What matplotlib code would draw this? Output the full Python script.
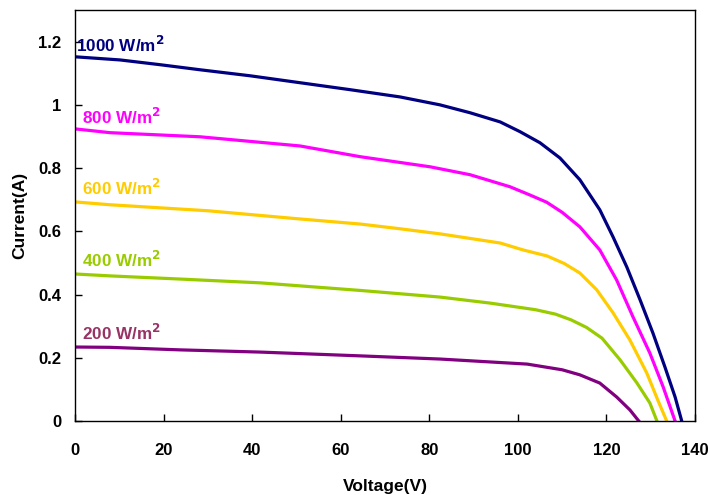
import matplotlib
matplotlib.use('Agg')
import matplotlib.pyplot as plt

plt.rcParams['font.family'] = ['Liberation Sans', 'DejaVu Sans']
plt.rcParams['font.weight'] = 'bold'

# I-V curves, one per irradiance
v_1000 = [0, 10.2, 19.2, 28.2, 39.5, 50.8, 62.1, 73.4, 82.4, 89.2, 96.0, 100.5, 105, 109.5, 114, 118.5, 121.5, 124.6, 127.6, 130.5, 133.2, 135.5, 137]
i_1000 = [1.152, 1.142, 1.127, 1.111, 1.092, 1.070, 1.048, 1.025, 1.000, 0.975, 0.946, 0.915, 0.880, 0.832, 0.763, 0.668, 0.582, 0.487, 0.383, 0.278, 0.171, 0.076, 0]

v_800 = [0, 7.9, 28.2, 50.8, 64.4, 80.2, 89.2, 98.2, 102.7, 106.5, 110, 114, 118.5, 122.3, 126.0, 129.8, 132.8, 135.5]
i_800 = [0.924, 0.912, 0.899, 0.870, 0.836, 0.804, 0.779, 0.741, 0.715, 0.692, 0.660, 0.614, 0.541, 0.446, 0.329, 0.215, 0.108, 0]

v_600 = [0, 7.9, 30, 50, 64.4, 73.4, 82.4, 96.0, 101.2, 106.6, 110.5, 114, 117.8, 121.5, 125.3, 129.1, 131.6, 133.6]
i_600 = [0.693, 0.684, 0.665, 0.640, 0.623, 0.608, 0.592, 0.563, 0.541, 0.522, 0.498, 0.468, 0.415, 0.342, 0.256, 0.152, 0.066, 0]

v_400 = [0, 7.9, 23.7, 41.8, 64.4, 82.4, 93.7, 104, 108.5, 112, 115.5, 119, 123.1, 126.9, 129.8, 131.4]
i_400 = [0.465, 0.459, 0.449, 0.437, 0.413, 0.392, 0.373, 0.352, 0.338, 0.320, 0.296, 0.262, 0.193, 0.120, 0.057, 0]

v_200 = [0, 7.9, 23.7, 41.8, 64.4, 82.4, 102.1, 110, 114, 118.5, 122.3, 125.3, 127.3]
i_200 = [0.234, 0.233, 0.225, 0.218, 0.206, 0.196, 0.180, 0.162, 0.146, 0.120, 0.076, 0.035, 0]

labels = ['1000 W/m$^2$', '800 W/m$^2$', '600 W/m$^2$', '400 W/m$^2$', '200 W/m$^2$']
label_y = [1.19, 0.963, 0.738, 0.51, 0.279]
label_x = [0.3, 1.5, 1.5, 1.5, 1.5]
line_colors = ['#000080', '#FF00FF', '#FFCC00', '#99CC00', '#800080']
text_colors = ['#000080', '#FF00FF', '#FFCC00', '#99CC00', '#993366']

curves = [(v_1000, i_1000), (v_800, i_800), (v_600, i_600), (v_400, i_400), (v_200, i_200)]

fig = plt.figure(figsize=(7.1, 4.95), dpi=100)
ax = fig.add_axes([0.1056, 0.1495, 0.8733, 0.8303])

for k, (v, i) in enumerate(curves):
    ax.plot(v, i, color=line_colors[k], lw=2.3)
    ax.text(label_x[k], label_y[k], labels[k], color=text_colors[k],
            fontsize=12.3, fontweight='bold', va='center', ha='left')

ax.set_xlim(0, 140)
ax.set_ylim(0, 1.3)
ax.set_xticks([0, 20, 40, 60, 80, 100, 120, 140])
ax.set_yticks([0, 0.2, 0.4, 0.6, 0.8, 1.0, 1.2])
ax.set_yticklabels(['0', '0.2', '0.4', '0.6', '0.8', '1', '1.2'])
ax.tick_params(direction='in', length=5, width=1, labelsize=12)
ax.tick_params(axis='x', pad=16)
ax.tick_params(axis='y', pad=10)
for lab in ax.get_xticklabels() + ax.get_yticklabels():
    lab.set_fontweight('bold')
for s in ax.spines.values():
    s.set_linewidth(1)

ax.set_xlabel('Voltage(V)', fontsize=12.5, fontweight='bold', labelpad=15)
ax.set_ylabel('Current(A)', fontsize=12.5, fontweight='bold', labelpad=8)

fig.savefig('out.png', dpi=100)
